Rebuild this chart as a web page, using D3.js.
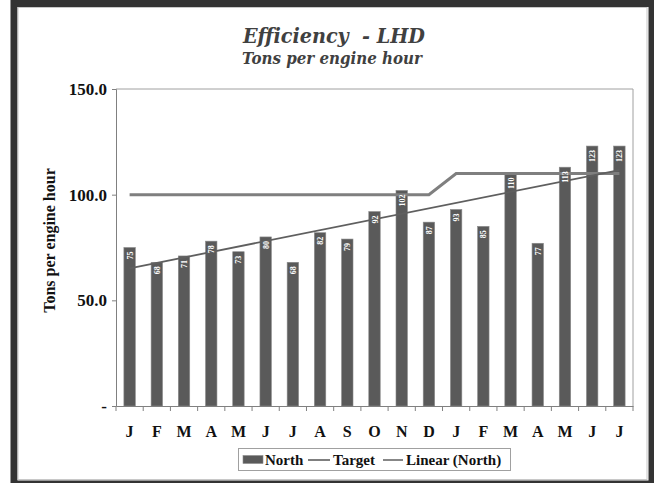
<!DOCTYPE html>
<html>
<head>
<meta charset="utf-8">
<script src="https://cdn.jsdelivr.net/npm/d3@7"></script>
<style>
  html, body { margin: 0; padding: 0; background: #fff; }
  svg { display: block; }
</style>
</head>
<body>
<svg id="chart" width="654" height="483"></svg>
<script>
// Monthly categories (two overlapping years, J..D then J..J)
const months = ["J","F","M","A","M","J","J","A","S","O","N","D","J","F","M","A","M","J","J"];
// Tons per engine hour, North
const north = [75, 68, 71, 78, 73, 80, 68, 82, 79, 92, 102, 87, 93, 85, 110, 77, 113, 123, 123];
// Target per month
const target = [100, 100, 100, 100, 100, 100, 100, 100, 100, 100, 100, 100, 110, 110, 110, 110, 110, 110, 110];
// Y-axis ticks and their labels
const yTicks = [0, 50, 100, 150];
const yTickLabels = ["-", "50.0", "100.0", "150.0"];

const svg = d3.select("#chart");

// Outer frame
svg.append("rect").attr("x", 14).attr("y", 3.5).attr("width", 638).attr("height", 480.5)
  .attr("fill", "#fff").attr("stroke", "#333").attr("stroke-width", 7);
svg.append("rect").attr("x", 18).attr("y", 7.5).attr("width", 629).attr("height", 472)
  .attr("fill", "none").attr("stroke", "#c8c8c8").attr("stroke-width", 1);

const plot = { left: 116, right: 633, top: 89, bottom: 406 };
const idx = months.map((d, i) => i);

const x = d3.scaleBand().domain(idx).range([plot.left, plot.right]).paddingInner(0).paddingOuter(0);
const y = d3.scaleLinear().domain([0, 150]).range([plot.bottom, plot.top]);
const cx = i => x(i) + x.bandwidth() / 2;
const barW = x.bandwidth() * 0.42;

const serif = "'Liberation Serif', 'Times New Roman', serif";
const titleFont = "'DejaVu Serif', Georgia, serif";

// Titles
svg.append("text").attr("x", 334).attr("y", 43).attr("text-anchor", "middle")
  .attr("font-family", titleFont).attr("font-weight", "bold").attr("font-style", "italic")
  .attr("font-size", 20).attr("fill", "#404040")
  .attr("textLength", 182).attr("lengthAdjust", "spacingAndGlyphs")
  .style("white-space", "pre").text("Efficiency  - LHD");
svg.append("text").attr("x", 332).attr("y", 64).attr("text-anchor", "middle")
  .attr("font-family", titleFont).attr("font-weight", "bold").attr("font-style", "italic")
  .attr("font-size", 17).attr("fill", "#404040")
  .attr("textLength", 180).attr("lengthAdjust", "spacingAndGlyphs")
  .text("Tons per engine hour");

// Plot area border (top and right)
svg.append("path")
  .attr("d", `M${plot.left},${plot.top}H${plot.right}V${plot.bottom}`)
  .attr("fill", "none").attr("stroke", "#a0a0a0").attr("stroke-width", 1);

// Bars
svg.append("g").selectAll("rect").data(north).join("rect")
  .attr("x", (d, i) => cx(i) - barW / 2)
  .attr("y", d => y(d))
  .attr("width", barW)
  .attr("height", d => y(0) - y(d))
  .attr("fill", "#5a5a5a")
  .attr("stroke", "#8a8a8a").attr("stroke-width", 0.6);

// Target line
svg.append("path").datum(target)
  .attr("d", d3.line().x((d, i) => cx(i)).y(d => y(d)))
  .attr("fill", "none").attr("stroke", "#7f7f7f").attr("stroke-width", 3);

// Linear trend of North (least squares)
const n = north.length;
const mx = d3.mean(idx), my = d3.mean(north);
const slope = d3.sum(idx, i => (i - mx) * (north[i] - my)) / d3.sum(idx, i => (i - mx) * (i - mx));
const icpt = my - slope * mx;
svg.append("line")
  .attr("x1", cx(0)).attr("y1", y(icpt))
  .attr("x2", cx(n - 1)).attr("y2", y(icpt + slope * (n - 1)))
  .attr("stroke", "#5f5f5f").attr("stroke-width", 1.8);

// Value labels inside bars (drawn over the lines)
svg.append("g").selectAll("text").data(north).join("text")
  .attr("transform", (d, i) => `translate(${cx(i) + 3},${y(d) + 4}) rotate(-90)`)
  .attr("text-anchor", "end")
  .attr("font-family", serif).attr("font-weight", "bold").attr("font-size", 8)
  .attr("fill", "#fff")
  .text(d => d);

// Y axis
const yAxis = d3.axisLeft(y).tickValues(yTicks).tickSize(4).tickPadding(5)
  .tickFormat((d, i) => yTickLabels[i]);
const gy = svg.append("g").attr("transform", `translate(${plot.left},0)`).call(yAxis);
gy.select(".domain").attr("stroke", "#808080");
gy.selectAll(".tick line").attr("stroke", "#808080");
gy.selectAll(".tick text").attr("font-family", serif).attr("font-weight", "bold")
  .attr("font-size", 17).attr("fill", "#111");

// X axis
const xAxis = d3.axisBottom(x).tickSize(0).tickPadding(20).tickFormat(i => months[i]);
const gx = svg.append("g").attr("transform", `translate(0,${plot.bottom})`).call(xAxis);
gx.select(".domain").attr("stroke", "#808080");
gx.selectAll(".tick text").attr("font-family", serif).attr("font-weight", "bold")
  .attr("font-size", 16).attr("fill", "#111");
// tick marks at category boundaries
gx.append("g").selectAll("line").data(d3.range(n + 1)).join("line")
  .attr("x1", i => plot.left + i * x.bandwidth()).attr("x2", i => plot.left + i * x.bandwidth())
  .attr("y1", 0).attr("y2", 5).attr("stroke", "#808080");

// Y axis title
svg.append("text")
  .attr("transform", `translate(55,${(plot.top + plot.bottom) / 2 - 7}) rotate(-90)`)
  .attr("text-anchor", "middle")
  .attr("font-family", serif).attr("font-weight", "bold").attr("font-size", 16)
  .attr("fill", "#111").text("Tons per engine hour");

// Legend
const lg = svg.append("g");
lg.append("rect").attr("x", 238.5).attr("y", 448.5).attr("width", 272).attr("height", 22)
  .attr("fill", "#fff").attr("stroke", "#a0a0a0");
lg.append("rect").attr("x", 243).attr("y", 455.5).attr("width", 20).attr("height", 8)
  .attr("fill", "#5a5a5a").attr("stroke", "#8a8a8a").attr("stroke-width", 0.6);
lg.append("text").attr("x", 265).attr("y", 465)
  .attr("font-family", serif).attr("font-weight", "bold").attr("font-size", 15).attr("fill", "#111")
  .text("North");
lg.append("line").attr("x1", 308).attr("x2", 330).attr("y1", 460).attr("y2", 460)
  .attr("stroke", "#7f7f7f").attr("stroke-width", 2);
lg.append("text").attr("x", 333).attr("y", 465)
  .attr("font-family", serif).attr("font-weight", "bold").attr("font-size", 15).attr("fill", "#111")
  .text("Target");
lg.append("line").attr("x1", 383).attr("x2", 403).attr("y1", 460).attr("y2", 460)
  .attr("stroke", "#5f5f5f").attr("stroke-width", 1.5);
lg.append("text").attr("x", 406).attr("y", 465)
  .attr("font-family", serif).attr("font-weight", "bold").attr("font-size", 15).attr("fill", "#111")
  .text("Linear (North)");
</script>
</body>
</html>
